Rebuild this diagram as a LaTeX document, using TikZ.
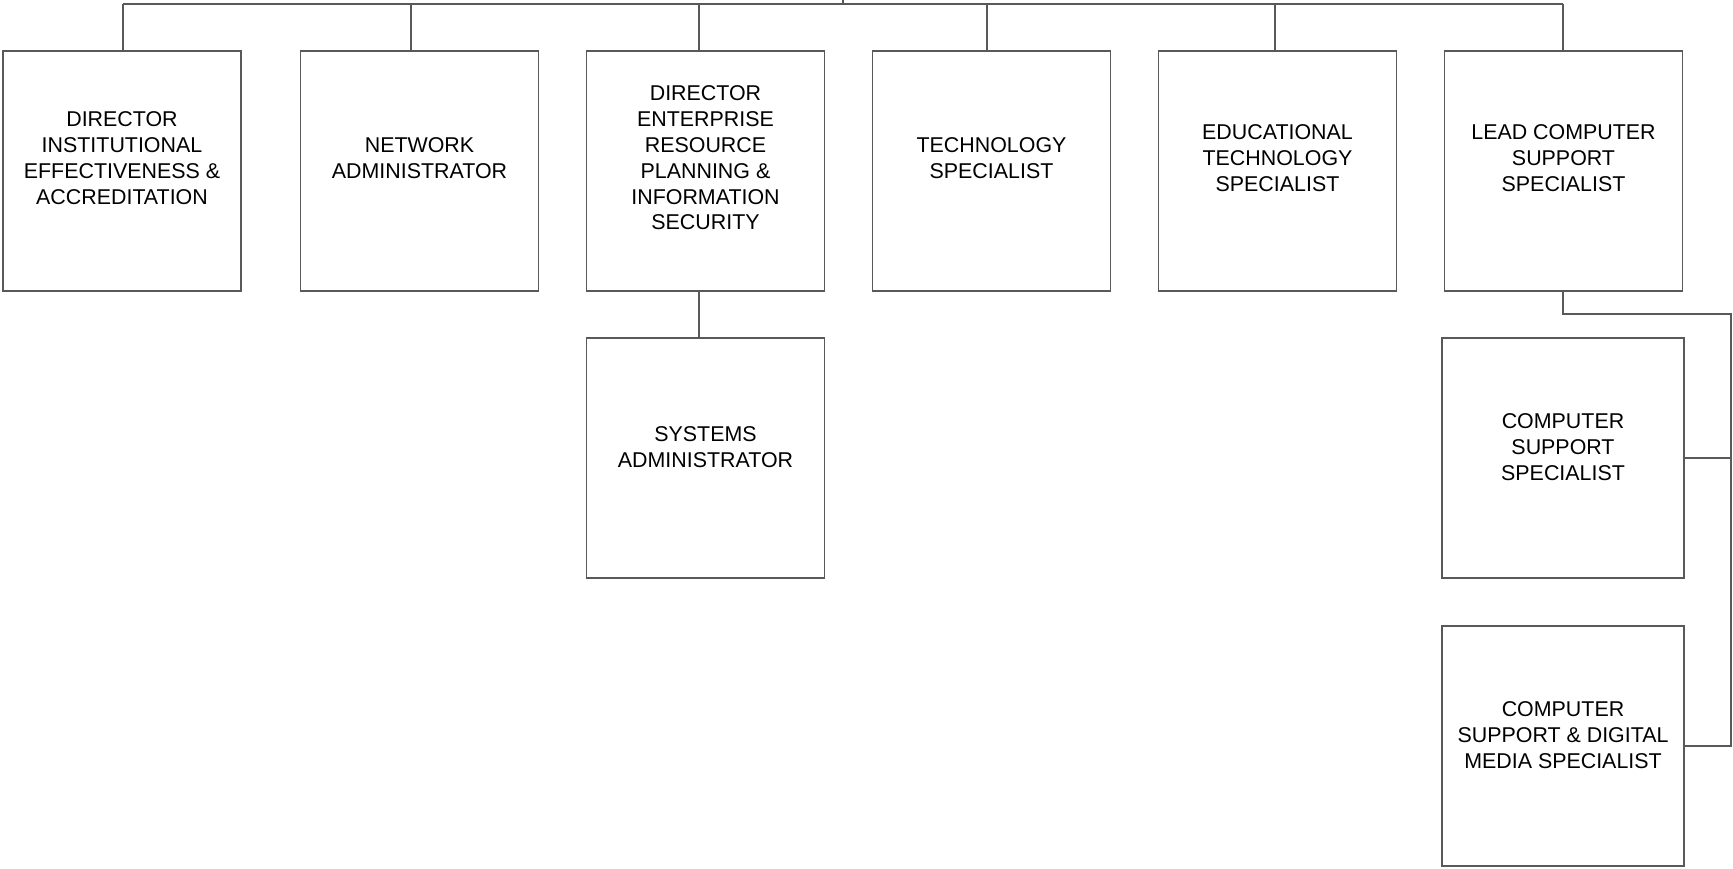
\documentclass[tikz,border=0pt]{standalone}
\usepackage{fontspec}
\setmainfont{Liberation Sans}
\usepackage{xcolor}
\usepackage{tikz}
\usetikzlibrary{positioning,calc}

\begin{document}
\begin{tikzpicture}[x=0.5pt,y=-0.5pt,
  post/.style={draw=black!65, line width=0.6pt, minimum width=119pt, minimum height=120pt, inner sep=0pt},
  wide/.style={post, minimum width=121pt},
  role/.style={inner sep=0pt, font=\fontsize{10.7}{12.9}\selectfont},
  link/.style={draw=black!65, line width=0.6pt}]
\useasboundingbox (0,0) rectangle (1733,868);

% top row
\node[post] (d1) at (122,171) {};
\node[post] (d2) at (419.5,171) {};
\node[post] (d3) at (705.5,171) {};
\node[post] (d4) at (991.5,171) {};
\node[post] (d5) at (1277.5,171) {};
\node[post] (d6) at (1563.5,171) {};
% lower boxes
\node[post] (d7) at (705.5,458) {};
\node[wide] (d8) at (1563,458) {};
\node[wide] (d9) at (1563,746) {};

\node[role] (t1) at ([yshift=5.4pt]d1.center) {\begin{tabular}{c}
DIRECTOR\\ INSTITUTIONAL\\ EFFECTIVENESS \&\\ ACCREDITATION
\end{tabular}};
\node[role] (t2) at ([yshift=5.4pt]d2.center) {\begin{tabular}{c}
NETWORK\\ ADMINISTRATOR
\end{tabular}};
\node[role] (t3) at ([yshift=5.4pt]d3.center) {\begin{tabular}{c}
DIRECTOR\\ ENTERPRISE\\ RESOURCE\\ PLANNING \&\\ INFORMATION\\ SECURITY
\end{tabular}};
\node[role] (t4) at ([yshift=5.4pt]d4.center) {\begin{tabular}{c}
TECHNOLOGY\\ SPECIALIST
\end{tabular}};
\node[role] (t5) at ([yshift=5.4pt]d5.center) {\begin{tabular}{c}
EDUCATIONAL\\ TECHNOLOGY\\ SPECIALIST
\end{tabular}};
\node[role] (t6) at ([yshift=5.4pt]d6.center) {\begin{tabular}{c}
LEAD COMPUTER\\ SUPPORT\\ SPECIALIST
\end{tabular}};
\node[role] (t7) at ([yshift=4.4pt]d7.center) {\begin{tabular}{c}
SYSTEMS\\ ADMINISTRATOR
\end{tabular}};
\node[role] (t8) at ([yshift=4.4pt]d8.center) {\begin{tabular}{c}
COMPUTER\\ SUPPORT\\ SPECIALIST
\end{tabular}};
\node[role] (t9) at ([yshift=4.4pt]d9.center) {\begin{tabular}{c}
COMPUTER\\ SUPPORT \& DIGITAL\\ MEDIA SPECIALIST
\end{tabular}};

% bus
\coordinate (top) at (843,0);
\coordinate (b1) at (123,4);
\coordinate (b2) at (411,4);
\coordinate (b3) at (699,4);
\coordinate (b4) at (987,4);
\coordinate (b5) at (1275,4);
\coordinate (b6) at (1563,4);
\draw[link] (top) -- (top |- b1);
\draw[link] (b1) -- (b6);
\foreach \i in {1,...,6}
  \draw[link] (b\i) -- (b\i |- d\i.north);

\draw[link] (b3 |- d3.south) -- (b3 |- d7.north);

% lead computer support
\coordinate (l1) at (1563,314);
\coordinate (l2) at (1731,314);
\draw[link] (b6 |- d6.south) -- (l1) -- (l2) |- (d9.east);
\draw[link] (d8.east) -- (d8.east -| l2);
\end{tikzpicture}
\end{document}
